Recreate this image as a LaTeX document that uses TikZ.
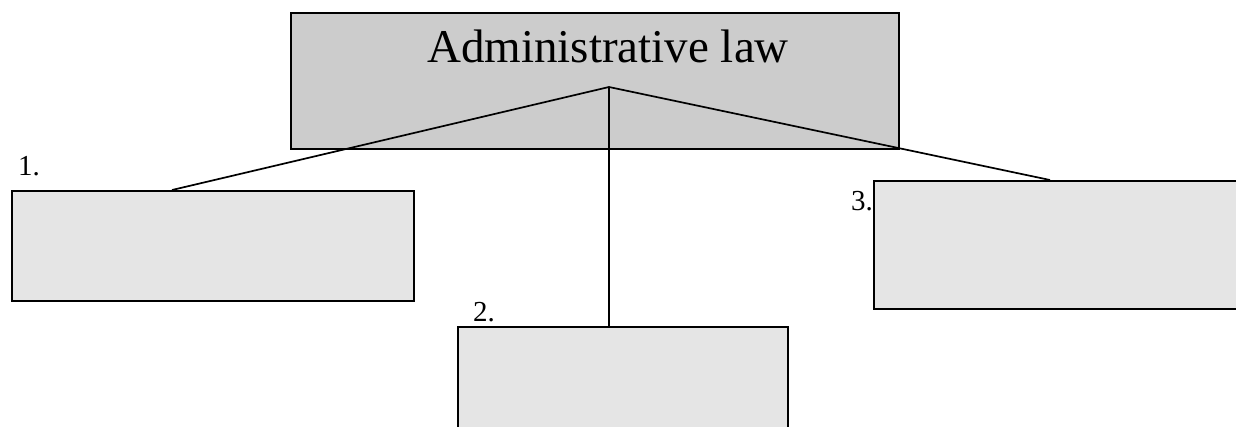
\documentclass[tikz,border=0pt]{standalone}
\usepackage{fontspec}
\setmainfont{Liberation Serif}
\begin{document}
\begin{tikzpicture}[x=1pt,y=-1pt,
  boxstyle/.style={draw=black,line width=1.8pt,rectangle,inner sep=0pt,anchor=north west},
  topbox/.style={boxstyle,fill=black!20},
  subbox/.style={boxstyle,fill=black!10},
  link/.style={draw=black,line width=1.7pt},
  numlabel/.style={font=\fontsize{29}{32}\selectfont,inner sep=0pt,anchor=base west}]
\useasboundingbox (0,0) rectangle (1236,426);
\clip (0,0) rectangle (1236,426);
\node[topbox,minimum width=608pt,minimum height=136pt] (top) at (290,12) {};
\node[font=\fontsize{47}{50}\selectfont,inner sep=0pt,anchor=base] (title) at (608,62) {Administrative law};
\node[subbox,minimum width=402pt,minimum height=110pt] (b1) at (11,190) {};
\node[subbox,minimum width=330pt,minimum height=130pt] (b2) at (457,326) {};
\node[subbox,minimum width=380pt,minimum height=128pt] (b3) at (873,180) {};
\coordinate (hub) at (609,87);
\draw[link] (hub) -- ([xshift=161pt]b1.north west);
\draw[link] (hub) -- ([xshift=152pt]b2.north west);
\draw[link] (hub) -- ([xshift=177pt]b3.north west);
\node[numlabel] (l1) at (18,175) {1.};
\node[numlabel] (l2) at (473,321) {2.};
\node[numlabel] (l3) at (851,210) {3.};
\end{tikzpicture}
\end{document}
